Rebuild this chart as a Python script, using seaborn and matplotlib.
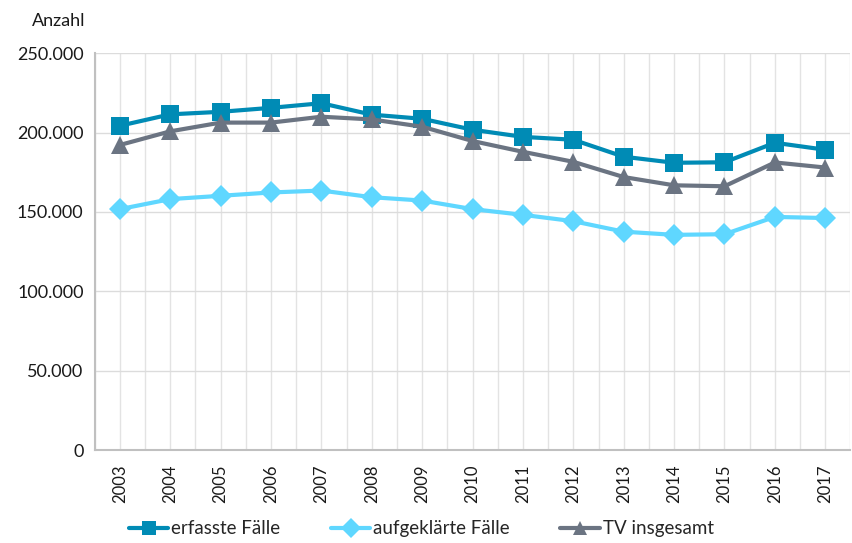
import matplotlib
matplotlib.use("Agg")
import matplotlib.pyplot as plt
from matplotlib.lines import Line2D
from matplotlib.ticker import FuncFormatter, MultipleLocator
import seaborn as sns
import pandas as pd

years = [2003, 2004, 2005, 2006, 2007, 2008, 2009, 2010, 2011, 2012, 2013, 2014, 2015, 2016, 2017]
erfasste = [204300, 211500, 213100, 215600, 218500, 211300, 208700, 201800, 197300, 195500, 184800, 181000, 181300, 193600, 189200]
aufgeklaerte = [151800, 158100, 160200, 162300, 163500, 159300, 157200, 151800, 148200, 144200, 137600, 135600, 136000, 146900, 146200]
tv = [192200, 200800, 206300, 206300, 210000, 208300, 203700, 194700, 187900, 181600, 172000, 166800, 166200, 181200, 178000]
series_names = ["erfasste Fälle", "aufgeklärte Fälle", "TV insgesamt"]
colors = ["#008bb5", "#5fd7ff", "#6b7482"]

rows = []
for name, vals in zip(series_names, [erfasste, aufgeklaerte, tv]):
    for i, (y, v) in enumerate(zip(years, vals)):
        rows.append({"pos": i, "year": str(y), "Serie": name, "Wert": v})
df = pd.DataFrame(rows)

sns.set_theme(style="white")
plt.rcParams["font.family"] = ["Lato", "DejaVu Sans"]

fig = plt.figure(figsize=(8.53, 5.43), dpi=100)
ax = fig.add_axes([0.111, 0.171, 0.886, 0.731])

palette = dict(zip(series_names, colors))
markers = dict(zip(series_names, ["s", "D", "^"]))
sizes_m = {"erfasste Fälle": 13, "aufgeklärte Fälle": 11, "TV insgesamt": 13}

for name in series_names:
    sub = df[df["Serie"] == name]
    sns.lineplot(data=sub, x="pos", y="Wert", ax=ax, color=palette[name],
                 marker=markers[name], markersize=sizes_m[name], linewidth=3,
                 markeredgewidth=0, legend=False, zorder=3)

ax.set_xlim(-0.5, len(years) - 0.5)
ax.set_ylim(0, 250000)
ax.set_xticks(range(len(years)))
ax.set_xticklabels([str(y) for y in years], rotation=90, fontsize=12, color="#1a1a1a")
ax.xaxis.set_minor_locator(MultipleLocator(0.5))
ax.yaxis.set_major_locator(MultipleLocator(50000))
ax.yaxis.set_major_formatter(FuncFormatter(lambda v, p: f"{int(v):,}".replace(",", ".")))
ax.tick_params(axis="y", labelsize=13, colors="#1a1a1a", length=6, color="#c8c8c8", width=1, pad=2)
ax.tick_params(axis="x", which="major", length=6, color="#c8c8c8", width=1, pad=4)
ax.tick_params(axis="x", which="minor", length=0)
ax.set_xlabel("")
ax.set_ylabel("")

ax.grid(axis="y", which="major", color="#dcdcdc", linewidth=1)
ax.grid(axis="x", which="both", color="#e3e3e3", linewidth=1)
ax.set_axisbelow(True)

for s in ["top", "right"]:
    ax.spines[s].set_visible(False)
for s in ["left", "bottom"]:
    ax.spines[s].set_color("#c0c0c0")
    ax.spines[s].set_linewidth(1.5)

fig.text(0.037, 0.962, "Anzahl", fontsize=13, color="#1a1a1a", ha="left", va="center")

handles = [Line2D([0], [0], color=palette[n], marker=markers[n], markersize=10,
                  linewidth=3, markeredgewidth=0) for n in series_names]
fig.legend(handles, series_names, loc="center", bbox_to_anchor=(0.494, 0.026), ncol=3,
           frameon=False, fontsize=13.5, handlelength=2.1, handletextpad=0.15,
           columnspacing=2.7)

fig.savefig("out.png", dpi=100)
